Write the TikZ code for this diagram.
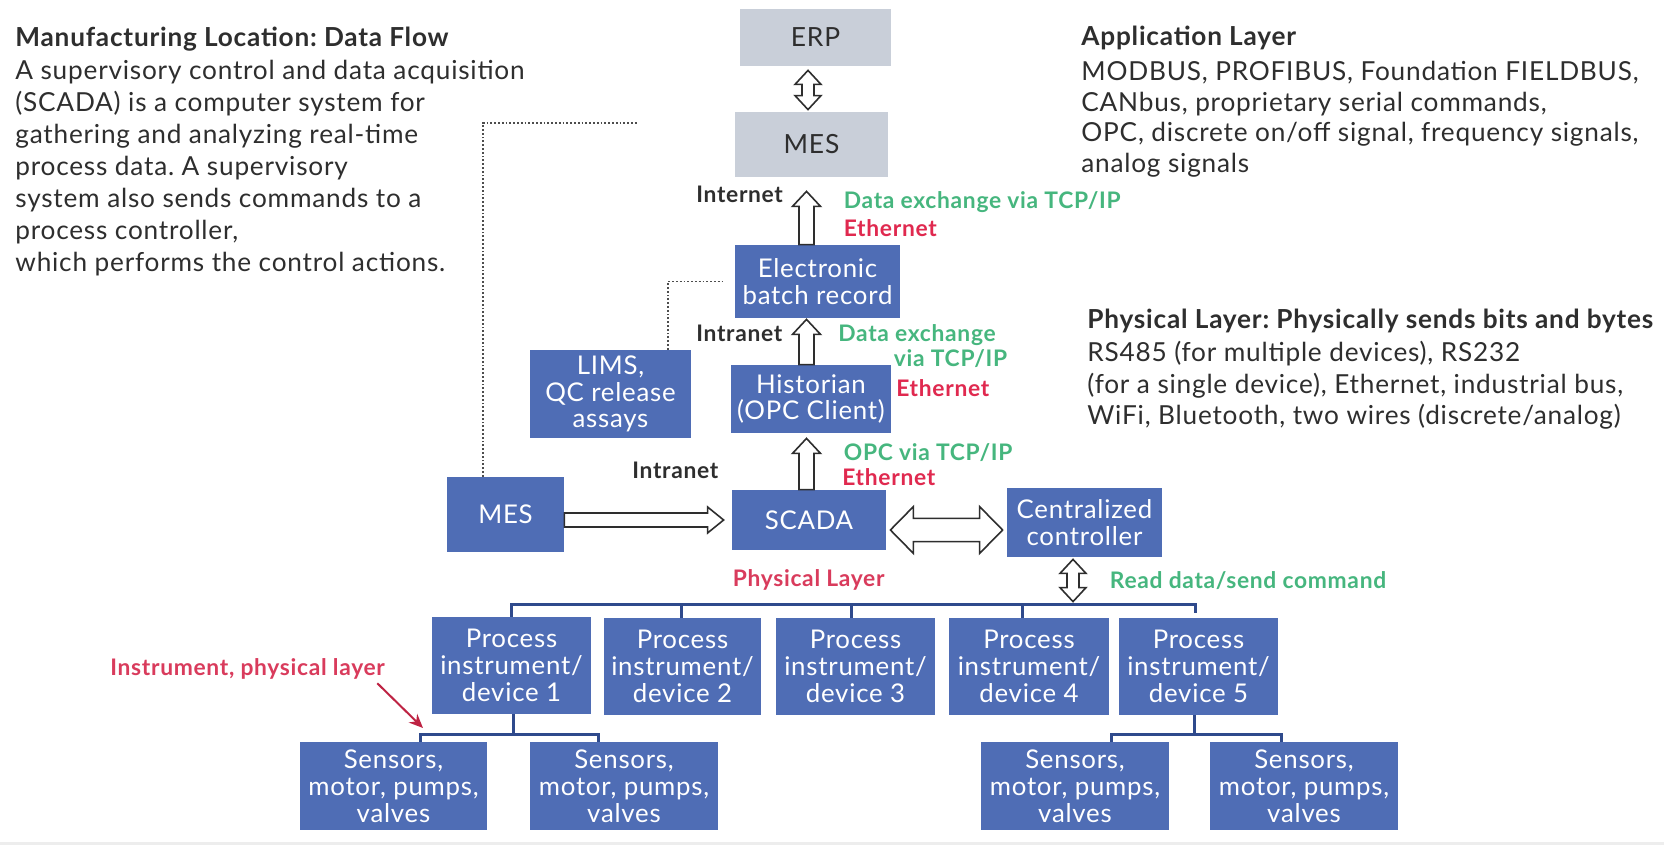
\documentclass[tikz,border=0pt]{standalone}
\usepackage{fontspec}
\setmainfont{Lato}[LetterSpace=3]
\frenchspacing
\usetikzlibrary{calc,arrows.meta}
\definecolor{boxblue}{HTML}{4F6DB5}
\definecolor{boxgray}{HTML}{C9CFD9}
\definecolor{treeblue}{HTML}{2F4A8C}
\definecolor{lblgreen}{HTML}{46B67E}
\definecolor{lblred}{HTML}{E0294F}
\definecolor{softred}{HTML}{D93B5C}
\definecolor{ink}{HTML}{2E2E2E}

% hollow block arrows, drawn between two points (page coordinates)
% up arrow: tail #1, tip #2
\newcommand\hollowup[2]{\draw[hollow] let \p1=(#1), \p2=(#2) in
  (\x1-3.75pt,\y1) -- (\x1-3.75pt,\y2-7.5pt) -- (\x1-7pt,\y2-7.5pt) -- (\x1,\y2)
  -- (\x1+7pt,\y2-7.5pt) -- (\x1+3.75pt,\y2-7.5pt) -- (\x1+3.75pt,\y1) -- cycle;}
% vertical double arrow: upper tip #1, lower tip #2
\newcommand\hollowvv[2]{\draw[hollow] let \p1=(#1), \p2=(#2) in
  (\x1,\y1) -- (\x1+6.5pt,\y1-7pt) -- (\x1+3pt,\y1-7pt) -- (\x1+3pt,\y2+7pt)
  -- (\x1+6.5pt,\y2+7pt) -- (\x1,\y2) -- (\x1-6.5pt,\y2+7pt) -- (\x1-3pt,\y2+7pt)
  -- (\x1-3pt,\y1-7pt) -- (\x1-6.5pt,\y1-7pt) -- cycle;}
% right arrow: tail #1, tip #2
\newcommand\hollowright[2]{\draw[hollow] let \p1=(#1), \p2=(#2) in
  (\x1,\y1+3.5pt) -- (\x2-8pt,\y1+3.5pt) -- (\x2-8pt,\y1+6.5pt) -- (\x2,\y1)
  -- (\x2-8pt,\y1-6.5pt) -- (\x2-8pt,\y1-3.5pt) -- (\x1,\y1-3.5pt) -- cycle;}
% horizontal double arrow: left tip #1, right tip #2
\newcommand\hollowhh[2]{\draw[hollow] let \p1=(#1), \p2=(#2) in
  (\x1,\y1) -- (\x1+11.5pt,\y1+11.7pt) -- (\x1+11.5pt,\y1+5.8pt) -- (\x2-11.5pt,\y1+5.8pt)
  -- (\x2-11.5pt,\y1+11.7pt) -- (\x2,\y1) -- (\x2-11.5pt,\y1-11.7pt) -- (\x2-11.5pt,\y1-5.8pt)
  -- (\x1+11.5pt,\y1-5.8pt) -- (\x1+11.5pt,\y1-11.7pt) -- cycle;}

\begin{document}
\begin{tikzpicture}[x=0.5pt,y=-0.5pt,
  wh/.style 2 args={minimum width=#1*0.5pt,minimum height=#2*0.5pt},
  bluebox/.style={rectangle,fill=boxblue,text=white,inner sep=0pt,align=center,
    font=\fontsize{12.9}{13.4}\selectfont},
  graybox/.style={rectangle,fill=boxgray,text=ink,inner sep=0pt,
    font=\fontsize{13.2}{15}\selectfont},
  tree/.style={draw=treeblue,line width=1.5pt},
  hollow/.style={draw=ink,fill=white,line width=0.8pt,line join=miter},
  dotline/.style={draw=ink!85,line width=0.9pt,densely dotted},
  lbl/.style={inner sep=0pt,anchor=base west,font=\fontsize{11.4}{13}\selectfont\bfseries},
  para/.style={inner sep=0pt,anchor=base west,text=ink,font=\fontsize{13.1}{15}\selectfont},
  head/.style={para,font=\fontsize{13.1}{15}\selectfont\bfseries}]

\useasboundingbox (0,0) rectangle (1664,845);
\fill[white] (0,0) rectangle (1664,845);
\fill[black!7] (0,842) rectangle (1664,845);

% ---- left description ----
\node[head] (lefthead) at (15,46.5) {Manufacturing Location: Data Flow};
\foreach \t [count=\i] in {{A supervisory control and data acquisition},
  {(SCADA) is a computer system for},{gathering and analyzing real-time},
  {process data. A supervisory},{system also sends commands to a},
  {process controller,},{which performs the control actions.}}
  \node[para] (left\i) at (15,{80+31.9*(\i-1)}) {\t};

% ---- right descriptions ----
\node[head] (apphead) at (1081,46) {Application Layer};
\foreach \t [count=\i] in {{MODBUS, PROFIBUS, Foundation FIELDBUS,},
  {CANbus, proprietary serial commands,},
  {OPC, discrete on/off signal, frequency signals,},{analog signals}}
  \node[para] (app\i) at (1081,{80.5+30.7*(\i-1)}) {\t};
\node[head] (phyhead) at (1087,328.5) {Physical Layer: Physically sends bits and bytes};
\foreach \t [count=\i] in {{RS485 (for multiple devices), RS232},
  {(for a single device), Ethernet, industrial bus,},
  {WiFi, Bluetooth, two wires (discrete/analog)}}
  \node[para] (phy\i) at (1087,{361.5+31.5*(\i-1)}) {\t};

% ---- enterprise level ----
\node[graybox,wh={151}{57}] (erp) at (815.5,37.5) {ERP};
\node[graybox,wh={153}{65}] (mestop) at (811.5,144.5) {MES};

% ---- plant level ----
\node[bluebox,wh={165}{73}] (elec) at (817.5,281.5) {Electronic\\batch record};
\node[bluebox,wh={161}{88}] (lims) at (610.5,394) {LIMS,\\QC release\\assays};
\node[bluebox,wh={160}{68}] (hist) at (811,399) {Historian\\(OPC Client)};
\node[bluebox,wh={117}{75}] (mesl) at (505.5,514.5) {MES};
\node[bluebox,wh={154}{60}] (scada) at (809,520) {SCADA};
\node[bluebox,wh={155}{69}] (central) at (1084.5,522.5) {Centralized\\controller};

% ---- instruments ----
\node[bluebox,wh={159}{97}] (d1) at (511.5,665.5) {Process\\instrument/\\device 1};
\node[bluebox,wh={157}{97}] (d2) at (682.5,666.5) {Process\\instrument/\\device 2};
\node[bluebox,wh={159}{97}] (d3) at (855.5,666.5) {Process\\instrument/\\device 3};
\node[bluebox,wh={160}{97}] (d4) at (1029,666.5) {Process\\instrument/\\device 4};
\node[bluebox,wh={159}{97}] (d5) at (1198.5,666.5) {Process\\instrument/\\device 5};

\node[bluebox,wh={187}{88}] (s1) at (393.5,786) {Sensors,\\motor, pumps,\\valves};
\node[bluebox,wh={188}{88}] (s2) at (624,786) {Sensors,\\motor, pumps,\\valves};
\node[bluebox,wh={188}{88}] (s3) at (1075,786) {Sensors,\\motor, pumps,\\valves};
\node[bluebox,wh={188}{88}] (s4) at (1304,786) {Sensors,\\motor, pumps,\\valves};

% ---- field bus and device wiring ----
\draw[tree] (d1.north) -- ++(0,-12) -| ($(d5.north)+(-3.5,-5)$);
\draw[tree] ($(d2.north)+(-1.5,0)$) -- ++(0,-13);
\draw[tree] ($(d3.north)+(-4.5,0)$) -- ++(0,-13);
\draw[tree] ($(d4.north)+(-7,0)$) -- ++(0,-13);
\draw[tree] ($(d1.south)+(1.5,0)$) -- ++(0,21);
\draw[tree] ($(s1.north)+(26.5,0)$) |- ($(s2.north)+(-26,-7)$) -- ($(s2.north)+(-26,0)$);
\draw[tree] ($(d5.south)+(-4.5,0)$) -- ++(0,21);
\draw[tree] ($(s3.north)+(36,0)$) |- ($(s4.north)+(-23,-7)$) -- ($(s4.north)+(-23,0)$);

% ---- dotted links ----
\coordinate (dotend) at (637,123);
\draw[dotline] ($(mesl.north)+(-22.5,0)$) |- (dotend);
\draw[dotline] ($(lims.north)+(57.5,0)$) |- ($(elec.west)+(-10,0)$);

% ---- data flow arrows ----
\hollowvv{$(erp.south)+(-7.5,4)$}{$(mestop.north)+(0,-2)$}
\hollowup{$(elec.north)+(-11,0)$}{$(mestop.south)+(0,14)$}
\hollowup{$(hist.north)+(-4.5,0)$}{$(elec.south)+(0,1)$}
\hollowup{$(scada.north)+(-2.5,0)$}{$(hist.south)+(0,5)$}
\hollowright{$(mesl.east)+(0,5.5)$}{$(scada.west)+(-8,0)$}
\hollowhh{$(scada.east)+(4,10)$}{$(central.west)+(-4,0)$}
\hollowvv{$(central.south)+(-11.5,2)$}{$(d4.north)+(0,-16)$}

% ---- link labels ----
\node[lbl,text=ink] (inet) at (696,203) {Internet};
\node[lbl,text=lblgreen] (dx1) at (843.5,208.5) {Data exchange via TCP/IP};
\node[lbl,text=lblred] (eth1) at (843.5,237) {Ethernet};
\node[lbl,text=ink] (intra1) at (696,341.5) {Intranet};
\node[lbl,text=lblgreen] (dx2) at (838,341.5) {Data exchange};
\node[lbl,text=lblgreen] (dx2b) at (893.5,366.5) {via TCP/IP};
\node[lbl,text=lblred] (eth2) at (896,396.5) {Ethernet};
\node[lbl,text=lblgreen] (opc) at (843.5,460) {OPC via TCP/IP};
\node[lbl,text=lblred] (eth3) at (842,485) {Ethernet};
\node[lbl,text=ink] (intra2) at (632,478) {Intranet};
\node[lbl,text=softred] (phylayer) at (732.5,586.5) {Physical Layer};
\node[lbl,text=lblgreen] (rdsc) at (1109.5,588) {Read data/send command};
\node[lbl,text=softred] (instr) at (110,675) {Instrument, physical layer};
\coordinate (instrtip) at (423,728);
\draw[draw=lblred!85!black,line width=1pt,-{Stealth[length=7pt,width=6pt]}]
  ($(instr.south east)+(-8,4)$) -- (instrtip);

\end{tikzpicture}
\end{document}
